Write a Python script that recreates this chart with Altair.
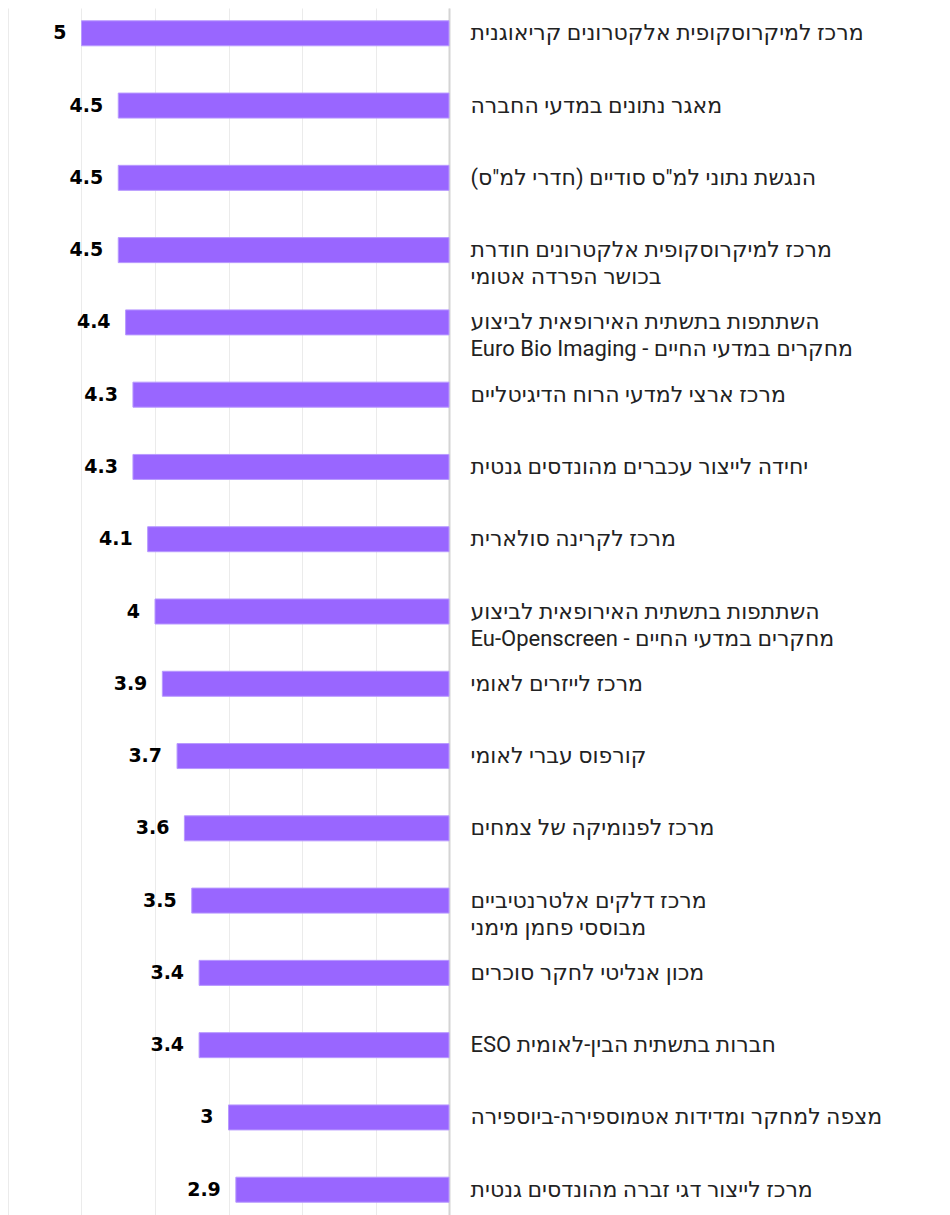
import altair as alt
import pandas as pd

RLE, PDF = "\u202b", "\u202c"

labels = [
    ["מרכז למיקרוסקופית אלקטרונים קריאוגנית"],
    ["מאגר נתונים במדעי החברה"],
    ["הנגשת נתוני למ\"ס סודיים (חדרי למ\"ס)"],
    ["מרכז למיקרוסקופית אלקטרונים חודרת", "בכושר הפרדה אטומי"],
    ["השתתפות בתשתית האירופאית לביצוע", "מחקרים במדעי החיים - Euro Bio Imaging"],
    ["מרכז ארצי למדעי הרוח הדיגיטליים"],
    ["יחידה לייצור עכברים מהונדסים גנטית"],
    ["מרכז לקרינה סולארית"],
    ["השתתפות בתשתית האירופאית לביצוע", "מחקרים במדעי החיים - Eu-Openscreen"],
    ["מרכז לייזרים לאומי"],
    ["קורפוס עברי לאומי"],
    ["מרכז לפנומיקה של צמחים"],
    ["מרכז דלקים אלטרנטיביים", "מבוססי פחמן מימני"],
    ["מכון אנליטי לחקר סוכרים"],
    ["חברות בתשתית הבין-לאומית ESO"],
    ["מצפה למחקר ומדידות אטמוספירה-ביוספירה"],
    ["מרכז לייצור דגי זברה מהונדסים גנטית"],
]
values = [5, 4.5, 4.5, 4.5, 4.4, 4.3, 4.3, 4.1, 4, 3.9, 3.7, 3.6, 3.5, 3.4, 3.4, 3, 2.9]
grid_values = [0, 1, 2, 3, 4, 5, 6]

label_strings = ["|".join(RLE + line + PDF for line in lines) for lines in labels]
df = pd.DataFrame({"label": label_strings, "value": values})

y_enc = alt.Y(
    "label:N",
    sort=None,
    title=None,
    scale=alt.Scale(paddingInner=0.654, paddingOuter=0.177),
    axis=alt.Axis(
        orient="right",
        ticks=False,
        labelPadding=21,
        labelAlign="left",
        labelBaseline="middle",
        labelFont="Roboto, 'DejaVu Sans'",
        labelFontSize=22,
        labelColor="#222222",
        labelLimit=700,
        labelLineHeight=27,
        labelExpr="split(datum.label, '|')",
        domainColor="#d4d4d4",
        domainWidth=2,
        grid=False,
    ),
)

x_enc = alt.X(
    "value:Q",
    title=None,
    scale=alt.Scale(domain=[0, 6], reverse=True, nice=False),
    axis=alt.Axis(
        values=grid_values,
        labels=False,
        ticks=False,
        domain=False,
        grid=True,
        gridColor="#ebebeb",
        gridWidth=1,
    ),
)

bars = alt.Chart(df).mark_bar(
    color="#9966ff", stroke="#b899ff", strokeWidth=1
).encode(x=x_enc, y=y_enc)

text = alt.Chart(df).mark_text(
    align="right",
    baseline="middle",
    dx=-15,
    font="DejaVu Sans",
    fontWeight="bold",
    fontSize=19,
    color="#000000",
).encode(
    x=alt.X("value:Q"),
    y=alt.Y("label:N", sort=None),
    text=alt.Text("value:Q"),
)

chart = (
    alt.layer(bars, text)
    .properties(width=441, height=1207, padding={"left": 0, "top": 0, "right": 5, "bottom": 0})
    .configure_view(stroke=None)
)

chart.save("out.html", embed_options={"renderer": "svg", "actions": False})
